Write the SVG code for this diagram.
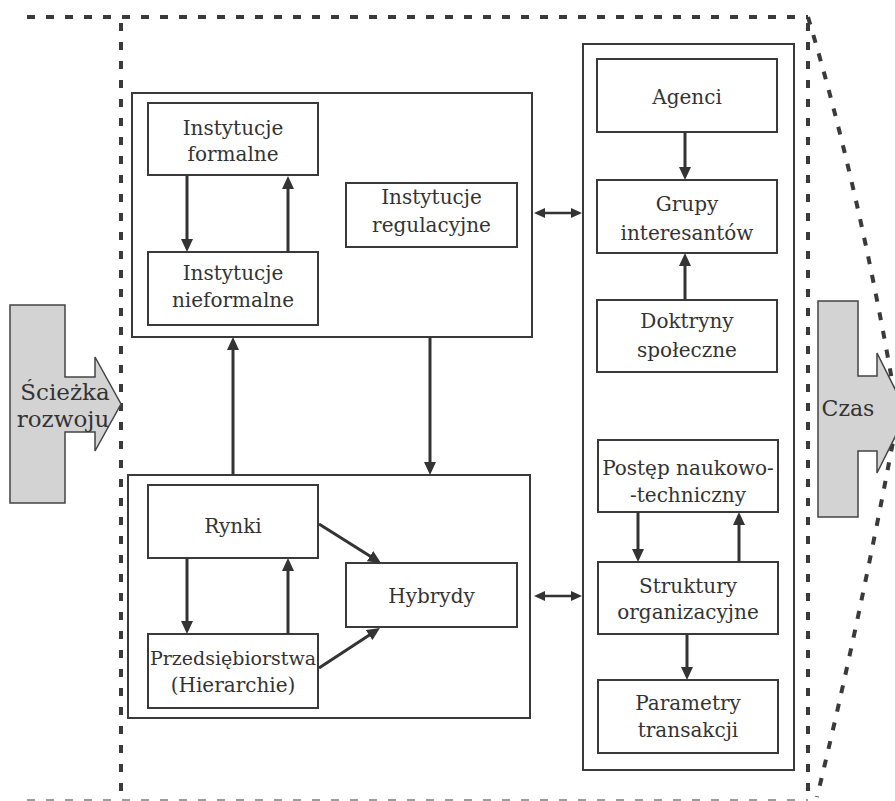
<svg xmlns="http://www.w3.org/2000/svg" width="895" height="801" viewBox="0 0 895 801">
<style>
.box{fill:#fff;stroke:#3a3a3a;stroke-width:2}
.frame{fill:none;stroke:#3a3a3a;stroke-width:2}
.t{font-family:"DejaVu Serif","Liberation Serif",serif;font-size:20px;fill:#333;text-anchor:middle}
.big{font-family:"DejaVu Serif","Liberation Serif",serif;font-size:23px;fill:#333;text-anchor:middle}
.dash{fill:none;stroke:#3a3a3a;stroke-width:4;stroke-dasharray:8 11}
.arr{fill:#d3d3d3;stroke:#444;stroke-width:1.5}
.c{fill:none;stroke:#333;stroke-width:3;marker-end:url(#ah)}
.d{fill:none;stroke:#333;stroke-width:2.5;marker-start:url(#ah2);marker-end:url(#ah2)}
</style>
<defs>
<marker id="ah" viewBox="0 0 13 12" refX="4" refY="6" markerWidth="13" markerHeight="12" markerUnits="userSpaceOnUse" orient="auto-start-reverse"><path d="M0,0 L13,6 L0,12 Z" fill="#333"/></marker>
<marker id="ah2" viewBox="0 0 11 10" refX="4" refY="5" markerWidth="11" markerHeight="10" markerUnits="userSpaceOnUse" orient="auto-start-reverse"><path d="M0,0 L11,5 L0,10 Z" fill="#333"/></marker>
</defs>
<rect width="895" height="801" fill="#fff"/>
<g id="frame-dashes">
<path class="dash" d="M27,17 H808"/>
<path class="dash" d="M121,23 V801"/>
<path class="dash" d="M808,23 V795"/>
<path class="dash" d="M808,17 Q860,190 898,415 Q860,620 817,797"/>
<path class="dash" d="M27,801 H808" stroke-opacity="0.5"/>
</g>
<g id="sciezka">
<path class="arr" d="M10,305 H65 V377 H95 V357 L121,404 L95,451 V432 H65 V503 H10 Z"/>
<text class="big" x="65" y="400">Ścieżka</text>
<text class="big" x="63" y="427">rozwoju</text>
</g>
<g id="czas">
<path class="arr" d="M818,301 H858 V376 H877 V353 L907,413 L877,473 V451 H858 V517 H818 Z"/>
<text class="big" x="848" y="416" style="font-size:22px">Czas</text>
</g>
<g id="instytucje">
<rect class="frame" x="132" y="93" width="400" height="244"/>
</g>
<g id="formalne">
<rect class="box" x="148" y="103" width="170" height="72"/>
<text class="t" x="233" y="135">Instytucje</text>
<text class="t" x="233" y="161">formalne</text>
</g>
<g id="nieformalne">
<rect class="box" x="148" y="252" width="170" height="73"/>
<text class="t" x="233" y="280">Instytucje</text>
<text class="t" x="233" y="307">nieformalne</text>
</g>
<g id="regulacyjne">
<rect class="box" x="346" y="183" width="171" height="64"/>
<text class="t" x="431.5" y="204">Instytucje</text>
<text class="t" x="431.5" y="232">regulacyjne</text>
</g>
<g id="rynkowe">
<rect class="frame" x="128" y="475" width="402" height="243"/>
</g>
<g id="rynki">
<rect class="box" x="148" y="485" width="170" height="73"/>
<text class="t" x="233" y="533">Rynki</text>
</g>
<g id="przedsiebiorstwa">
<rect class="box" x="148" y="634" width="170" height="74"/>
<text class="t" x="233" y="665" style="font-size:19px">Przedsiębiorstwa</text>
<text class="t" x="233" y="692">(Hierarchie)</text>
</g>
<g id="hybrydy">
<rect class="box" x="346" y="563" width="171" height="64"/>
<text class="t" x="431.5" y="603">Hybrydy</text>
</g>
<g id="kolumna">
<rect class="frame" x="583" y="44" width="211" height="726"/>
</g>
<g id="agenci">
<rect class="box" x="597" y="59" width="180" height="73"/>
<text class="t" x="687" y="104">Agenci</text>
</g>
<g id="grupy">
<rect class="box" x="597" y="180" width="180" height="73"/>
<text class="t" x="687" y="211">Grupy</text>
<text class="t" x="687" y="240">interesantów</text>
</g>
<g id="doktryny">
<rect class="box" x="597" y="300" width="180" height="72"/>
<text class="t" x="687" y="328">Doktryny</text>
<text class="t" x="687" y="357">społeczne</text>
</g>
<g id="postep">
<rect class="box" x="598" y="440" width="180" height="72"/>
<text class="t" x="688" y="475">Postęp naukowo-</text>
<text class="t" x="688" y="502">-techniczny</text>
</g>
<g id="struktury">
<rect class="box" x="598" y="562" width="180" height="72"/>
<text class="t" x="688" y="593">Struktury</text>
<text class="t" x="688" y="619">organizacyjne</text>
</g>
<g id="parametry">
<rect class="box" x="598" y="680" width="180" height="73"/>
<text class="t" x="688" y="710">Parametry</text>
<text class="t" x="688" y="737">transakcji</text>
</g>
<g id="connectors">
<line class="c" x1="187" y1="176" x2="187" y2="243"/>
<line class="c" x1="288" y1="252" x2="288" y2="185"/>
<line class="c" x1="233" y1="475" x2="233" y2="346"/>
<line class="c" x1="430" y1="337" x2="430" y2="466"/>
<line class="c" x1="187" y1="558" x2="187" y2="625"/>
<line class="c" x1="288" y1="634" x2="288" y2="567"/>
<line class="c" x1="319" y1="524" x2="373.4" y2="558.3"/>
<line class="c" x1="319" y1="668" x2="372.5" y2="632.9"/>
<line class="c" x1="685" y1="132" x2="685" y2="171"/>
<line class="c" x1="685" y1="300" x2="685" y2="262"/>
<line class="c" x1="638" y1="512" x2="638" y2="553"/>
<line class="c" x1="739" y1="562" x2="739" y2="521"/>
<line class="c" x1="687" y1="634" x2="687" y2="671"/>
<line class="d" x1="541" y1="213" x2="575" y2="213"/>
<line class="d" x1="541" y1="596" x2="575" y2="596"/>
</g>
</svg>
